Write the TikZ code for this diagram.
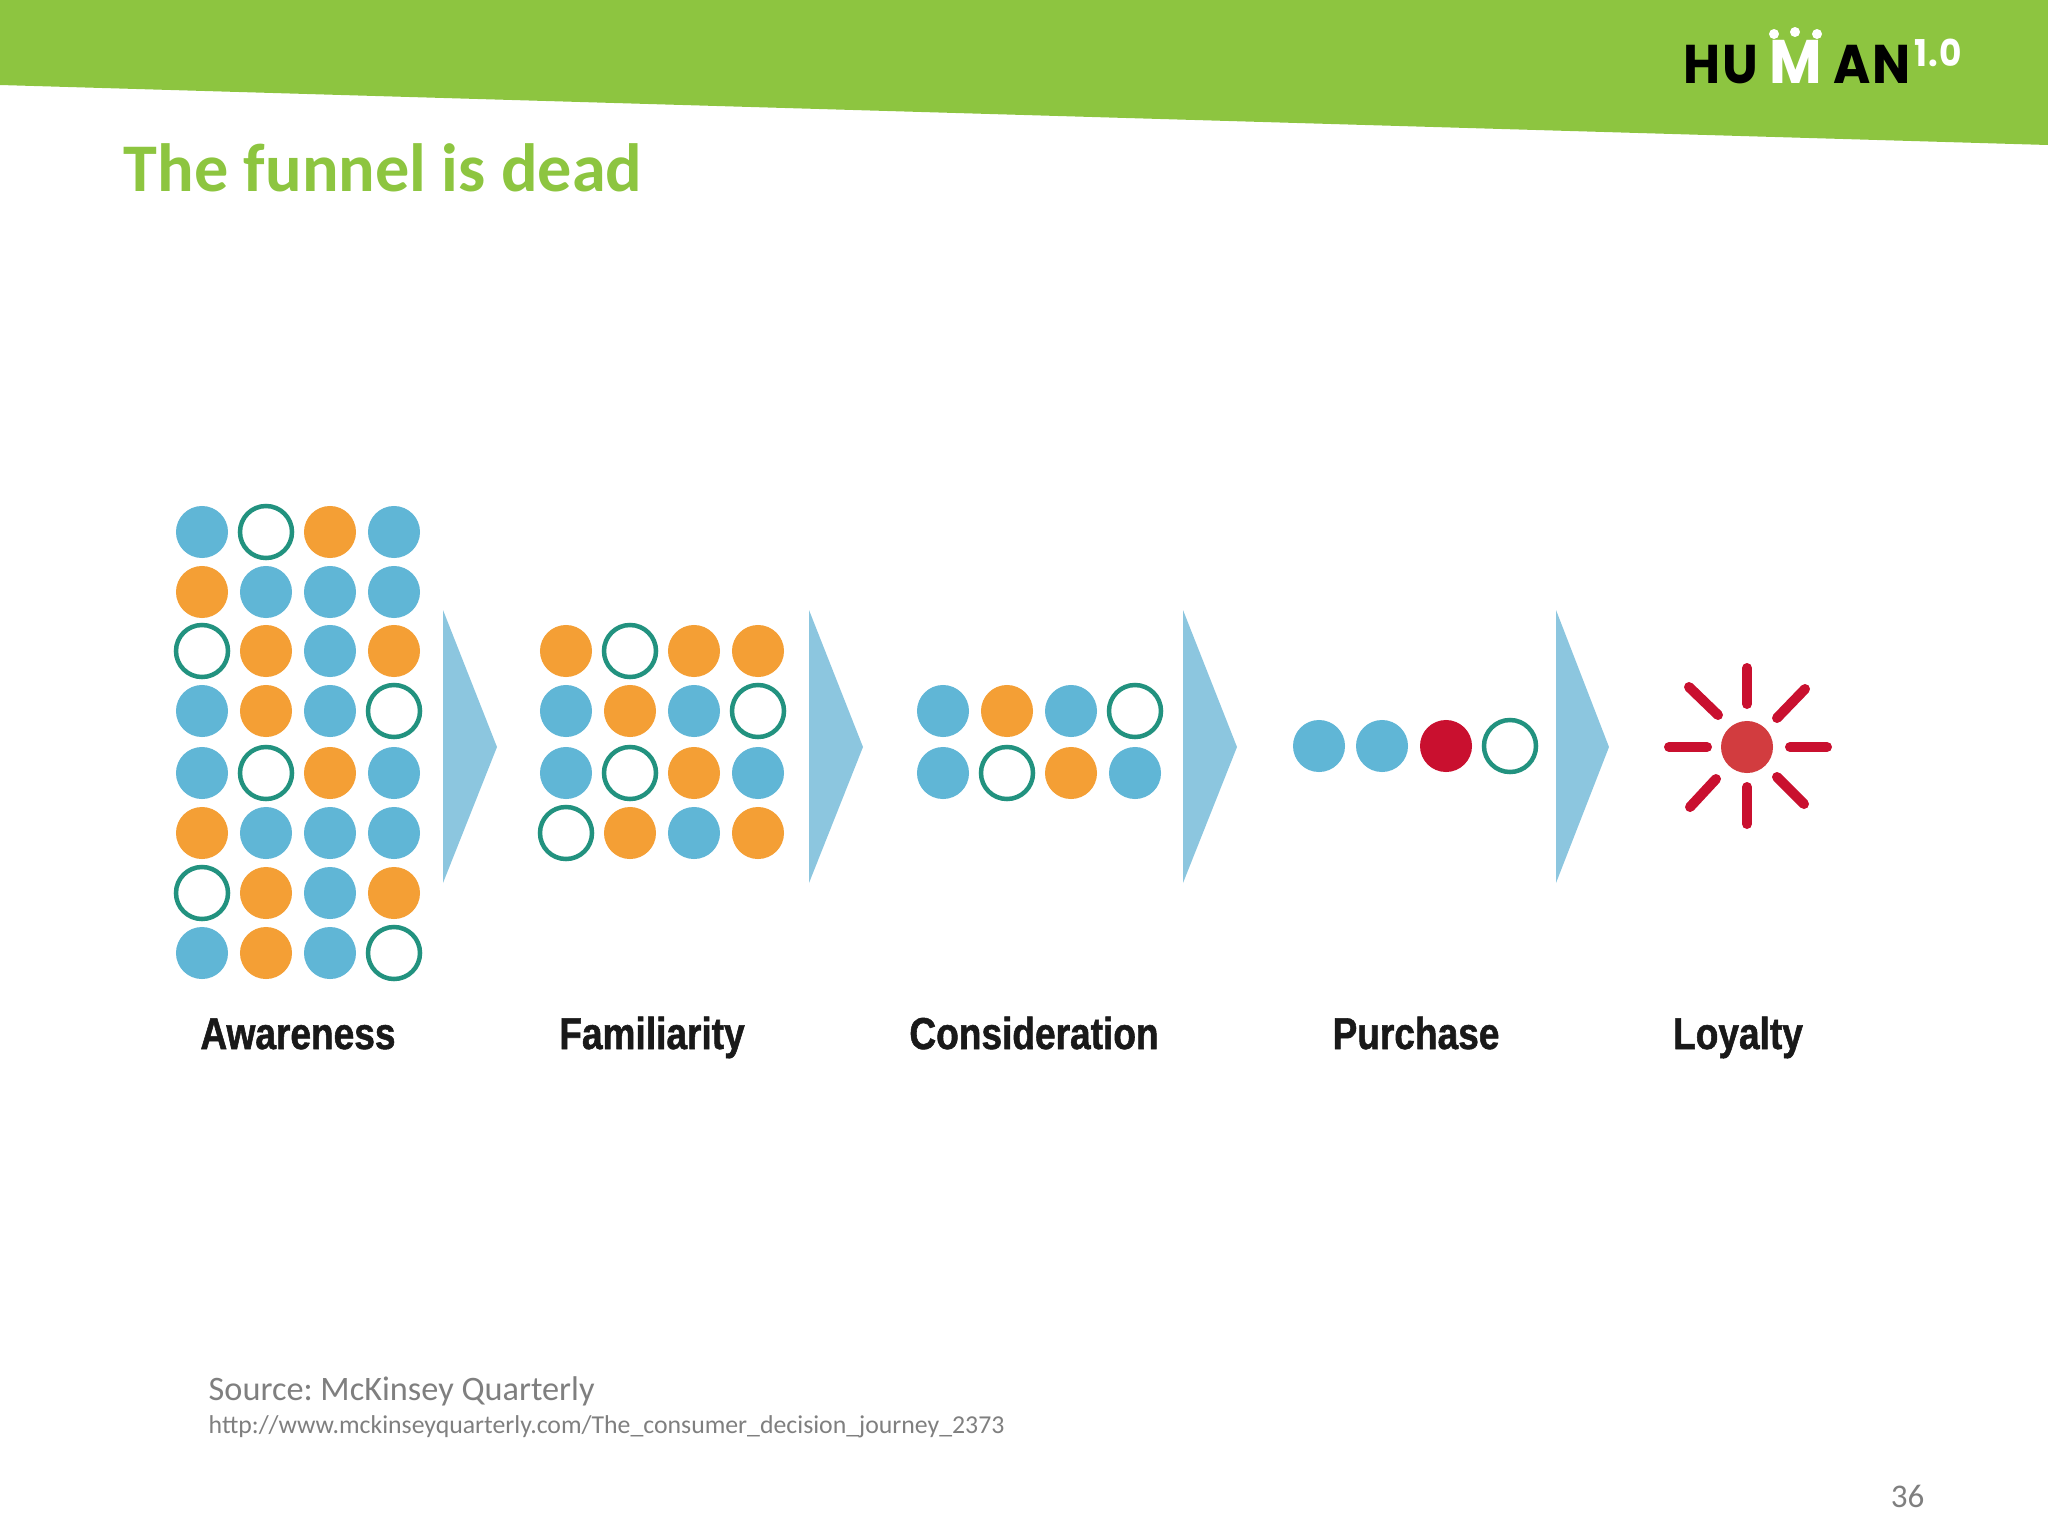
\documentclass[tikz,border=0pt]{standalone}
\usepackage{fontspec}
\usetikzlibrary{positioning}
\setmainfont{Carlito}
\newfontfamily\stagefont[FakeStretch=0.83,BoldFeatures={FakeBold=1.2}]{Liberation Sans}
\newfontfamily\logofont[FakeStretch=0.93,LetterSpace=3]{Poppins}
\definecolor{bannergreen}{HTML}{8DC540}
\definecolor{dotblue}{HTML}{60B6D6}
\definecolor{dotorange}{HTML}{F49F35}
\definecolor{ringgreen}{HTML}{22927F}
\definecolor{wedgeblue}{HTML}{8CC6DF}
\definecolor{sunred}{HTML}{C9102F}
\definecolor{suncore}{HTML}{D23C3F}
\definecolor{notegray}{HTML}{7F7F7F}
\begin{document}
\begin{tikzpicture}[
  x=0.01cm, y=-0.01cm,
  dotb/.style={circle, fill=dotblue, minimum size=5.2mm, inner sep=0pt, outer sep=0pt},
  doto/.style={circle, fill=dotorange, minimum size=5.2mm, inner sep=0pt, outer sep=0pt},
  dotr/.style={circle, draw=ringgreen, line width=0.45mm, fill=white, minimum size=5.2mm, inner sep=0pt, outer sep=0pt},
  dotp/.style={circle, fill=sunred, minimum size=5.2mm, inner sep=0pt, outer sep=0pt},
  wedge/.style={fill=wedgeblue},
  ray/.style={draw=sunred, line width=1mm, line cap=round},
  stage/.style={font=\stagefont\fontsize{12.7}{14}\selectfont\bfseries, text=black!90, inner sep=0pt, anchor=base},
  logo/.style={font=\logofont\fontsize{15.5}{17}\selectfont\bfseries, inner sep=0pt, anchor=base west}
]
\useasboundingbox (0,0) rectangle (2048,1536);
\def\yT{610} \def\yM{747} \def\yB{883}

% banner and title
\fill[bannergreen] (0,0) -- (2048,0) -- (2048,145) -- (0,85) -- cycle;
\node[logo, text=black] (logoa) at (1683,83) {HU};
\node[logo, text=white, font=\logofont\fontsize{17.5}{19}\selectfont\bfseries] (logob) at (1769,83) {M};
\node[logo, text=black] (logoc) at (1833,83) {AN};
\node[logo, text=white, font=\logofont\fontsize{10.5}{12}\selectfont\bfseries] (logod) at (1914,66) {1.0};
\fill[white] (1774,34) circle (5) (1795,32) circle (5) (1817,34) circle (5);
\node[anchor=base west, inner sep=0pt, text=bannergreen, font=\fontsize{19.4}{21}\selectfont\bfseries] (title) at (123,191) {The funnel is dead};

% awareness
\node[dotb] (a1) at (202,532) {}; \node[dotr] (a2) at (266,532) {}; \node[doto] (a3) at (330,532) {}; \node[dotb] (a4) at (394,532) {};
\node[doto] (a5) at (202,592) {}; \node[dotb] (a6) at (266,592) {}; \node[dotb] (a7) at (330,592) {}; \node[dotb] (a8) at (394,592) {};
\node[dotr] (a9) at (202,651) {}; \node[doto] (a10) at (266,651) {}; \node[dotb] (a11) at (330,651) {}; \node[doto] (a12) at (394,651) {};
\node[dotb] (a13) at (202,711) {}; \node[doto] (a14) at (266,711) {}; \node[dotb] (a15) at (330,711) {}; \node[dotr] (a16) at (394,711) {};
\node[dotb] (a17) at (202,773) {}; \node[dotr] (a18) at (266,773) {}; \node[doto] (a19) at (330,773) {}; \node[dotb] (a20) at (394,773) {};
\node[doto] (a21) at (202,833) {}; \node[dotb] (a22) at (266,833) {}; \node[dotb] (a23) at (330,833) {}; \node[dotb] (a24) at (394,833) {};
\node[dotr] (a25) at (202,893) {}; \node[doto] (a26) at (266,893) {}; \node[dotb] (a27) at (330,893) {}; \node[doto] (a28) at (394,893) {};
\node[dotb] (a29) at (202,953) {}; \node[doto] (a30) at (266,953) {}; \node[dotb] (a31) at (330,953) {}; \node[dotr] (a32) at (394,953) {};
\fill[wedge] (443,\yT) -- (497,\yM) -- (443,\yB) -- cycle;

% familiarity
\node[doto] (f1) at (566,651) {}; \node[dotr] (f2) at (630,651) {}; \node[doto] (f3) at (694,651) {}; \node[doto] (f4) at (758,651) {};
\node[dotb] (f5) at (566,711) {}; \node[doto] (f6) at (630,711) {}; \node[dotb] (f7) at (694,711) {}; \node[dotr] (f8) at (758,711) {};
\node[dotb] (f9) at (566,773) {}; \node[dotr] (f10) at (630,773) {}; \node[doto] (f11) at (694,773) {}; \node[dotb] (f12) at (758,773) {};
\node[dotr] (f13) at (566,833) {}; \node[doto] (f14) at (630,833) {}; \node[dotb] (f15) at (694,833) {}; \node[doto] (f16) at (758,833) {};
\fill[wedge] (809,\yT) -- (863,\yM) -- (809,\yB) -- cycle;

% consideration
\node[dotb] (c1) at (943,711) {}; \node[doto] (c2) at (1007,711) {}; \node[dotb] (c3) at (1071,711) {}; \node[dotr] (c4) at (1135,711) {};
\node[dotb] (c5) at (943,773) {}; \node[dotr] (c6) at (1007,773) {}; \node[doto] (c7) at (1071,773) {}; \node[dotb] (c8) at (1135,773) {};
\fill[wedge] (1183,\yT) -- (1237,\yM) -- (1183,\yB) -- cycle;

% purchase
\node[dotb] (p1) at (1319,746) {}; \node[dotb] (p2) at (1382,746) {}; \node[dotp] (p3) at (1446,746) {}; \node[dotr] (p4) at (1510,746) {};
\fill[wedge] (1556,\yT) -- (1609,\yM) -- (1556,\yB) -- cycle;

% loyalty
\node[circle, fill=suncore, minimum size=5.2mm, inner sep=0pt, outer sep=0pt] (sun) at (1747,\yM) {};
\draw[ray] (1747,668) -- (1747,704);
\draw[ray] (1747,787) -- (1747,824);
\draw[ray] (1669,\yM) -- (1707,\yM);
\draw[ray] (1790,\yM) -- (1827,\yM);
\draw[ray] (1689,687) -- (1718,715);
\draw[ray] (1777,718) -- (1805,689);
\draw[ray] (1716,779) -- (1690,807);
\draw[ray] (1777,777) -- (1804,804);

\node[stage] (awareness) at (298,1049) {Awareness};
\node[stage] (familiarity) at (652,1049) {Familiarity};
\node[stage] (consideration) at (1034,1049) {Consideration};
\node[stage] (purchase) at (1416,1049) {Purchase};
\node[stage] (loyalty) at (1738,1049) {Loyalty};

\node[anchor=base west, inner sep=0pt, text=notegray, font=\fontsize{9.75}{11}\selectfont\frenchspacing] (source) at (208,1400) {Source: McKinsey Quarterly};
\node[anchor=base west, inner sep=0pt, text=notegray, font=\fontsize{7.33}{9}\selectfont] (url) at (208,1433) {http://www.mckinseyquarterly.com/The\_consumer\_decision\_journey\_2373};
\node[anchor=base east, inner sep=0pt, text=notegray, font=\fontsize{9.4}{11}\selectfont] (page) at (1925,1507) {36};
\end{tikzpicture}
\end{document}
